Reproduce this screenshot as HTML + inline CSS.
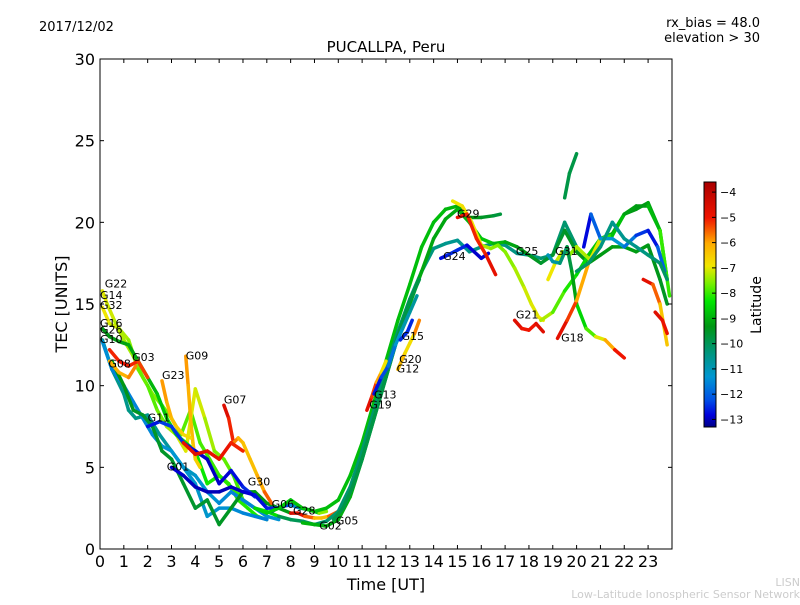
<!DOCTYPE html>
<html><head><meta charset="utf-8">
<style>
body{margin:0;background:#fff;}
svg{font-family:"DejaVu Sans","Liberation Sans",sans-serif;}
</style></head>
<body>
<svg id="c" width="800" height="600" xmlns="http://www.w3.org/2000/svg">
<text x="39" y="31" font-size="13">2017/12/02</text>
<text x="760" y="27" font-size="13" text-anchor="end">rx_bias = 48.0</text>
<text x="760" y="42" font-size="13" text-anchor="end">elevation &gt; 30</text>
<text x="386" y="52" font-size="15" text-anchor="middle">PUCALLPA, Peru</text>
<g id="marks"></g>
<g id="labels"></g>
<rect x="100" y="59" width="572" height="490" fill="none" stroke="#000" stroke-width="1"/>
<g id="axes"></g>
<text x="386" y="590" font-size="16" text-anchor="middle">Time [UT]</text>
<text x="67" y="304" font-size="16" text-anchor="middle" transform="rotate(-90 67 304)">TEC [UNITS]</text>
<g id="cbar"></g>
<text x="761" y="305" font-size="14" text-anchor="middle" transform="rotate(-90 761 305)">Latitude</text>
<text x="800" y="586" font-size="11" fill="#ccc" text-anchor="end">LISN</text>
<text x="800" y="598" font-size="11" fill="#ccc" text-anchor="end">Low-Latitude Ionospheric Sensor Network</text>
</svg>
<script>
const xTicks=[0,1,2,3,4,5,6,7,8,9,10,11,12,13,14,15,16,17,18,19,20,21,22,23];
const yTicks=[0,5,10,15,20,25,30];
const cbTicks=[-4,-5,-6,-7,-8,-9,-10,-11,-12,-13];
const satNames=["G22","G14","G32","G16","G26","G10","G08","G03","G09","G23","G11","G07","G01","G30","G06","G28","G02","G05","G29","G24","G25","G31","G21","G18","G15","G20","G12","G13","G19"];
const satLabelT=[0.2,0,0,0,0,0,0.35,1.35,3.6,2.6,2.0,5.2,2.8,6.2,7.2,8.1,9.2,9.9,14.98,14.4,17.45,19.1,17.45,19.35,12.65,12.55,12.45,11.5,11.3];
const satLabelV=[16.0,15.3,14.7,13.6,13.2,12.6,11.1,11.5,11.6,10.4,7.8,8.9,4.8,3.9,2.5,2.1,1.2,1.5,20.3,17.7,18.0,18.0,14.1,12.7,12.8,11.4,10.8,9.2,8.6];
// tracks: times, TEC values, latitudes
const trT=[],trV=[],trL=[];
function tr(t,v,l){trT.push(t);trV.push(v);trL.push(l);}
tr([0.1,0.3,0.6,1.0,1.4,1.8,2.2,2.6,3.0,3.4,3.8,4.2,4.6,5.0,5.4,5.8,6.2,6.6,7.0],[15.8,15.0,14.0,12.8,11.8,10.5,9.5,8.8,8.0,7.0,8.5,6.5,5.5,4.5,4.0,3.0,2.5,2.0,1.8],[-7.0,-7.0,-7.2,-7.3,-7.4,-7.5,-7.5,-7.6,-7.7,-7.8,-7.8,-7.9,-7.9,-8.0,-8.0,-8.1,-8.1,-8.2,-8.2]);
tr([0.1,0.4,0.8,1.2,1.6,2.0,2.4,2.8,3.2,3.6,4.0,4.4,4.8,5.2,5.6,6.0],[14.8,13.8,13.5,12.8,11.0,10.0,8.5,7.5,7.0,6.0,9.8,8.0,6.0,5.5,4.5,3.0],[-6.8,-7.0,-7.2,-7.4,-7.6,-7.8,-7.8,-7.5,-7.2,-7.0,-7.0,-7.2,-7.5,-7.7,-7.8,-8.0]);
tr([0.1,0.4,0.8,1.2,1.6,2.0,2.4,2.8,3.2,3.6,4.0,4.5,5.0,5.5,6.0,6.5,7.0,7.5],[13.5,13.0,12.7,12.5,11.5,10.5,9.5,8.0,7.0,6.5,6.0,4.0,4.5,3.8,3.0,2.5,2.3,2.0],[-9.3,-9.3,-9.2,-9.1,-9.0,-9.0,-8.8,-8.6,-8.5,-8.4,-8.3,-8.2,-8.1,-8.0,-8.0,-8.1,-8.3,-8.5]);
tr([0.1,0.5,1.0,1.2,1.5,2.0,2.5,3.0,3.5,4.0,4.5,5.0,5.5,6.0,6.5,7.0,7.5],[12.8,11.0,9.5,8.5,8.0,8.2,7.0,6.0,5.0,4.5,3.5,2.8,3.5,3.0,2.5,2.0,1.8],[-10.5,-10.5,-10.5,-10.5,-10.4,-10.5,-10.6,-10.8,-11.0,-11.2,-11.3,-11.4,-11.5,-11.6,-11.5,-11.4,-11.3]);
tr([0.1,0.5,1.0,1.4,1.8,2.2,2.6,3.0,3.5,4.0,4.5,5.0,5.5,6.0,6.5,7.0],[12.7,11.0,10.0,9.0,8.0,7.0,6.3,6.0,5.0,4.0,2.0,2.5,2.5,2.2,2.0,1.8],[-11.3,-11.5,-11.6,-11.6,-11.5,-11.5,-11.4,-11.3,-11.3,-11.2,-11.2,-11.3,-11.4,-11.5,-11.6,-11.6]);
tr([0.5,1.0,1.4,1.8,2.2,2.6,3.0,3.5,4.0,4.5,5.0,5.5,6.0,6.5,7.0,7.5,8.0],[11.5,10.0,8.5,8.2,7.5,6.0,5.5,4.0,2.5,3.0,1.5,2.5,3.5,3.5,2.8,2.5,2.2],[-9.2,-9.3,-9.4,-9.5,-9.5,-9.5,-9.5,-9.5,-9.6,-9.6,-9.5,-9.4,-9.4,-9.3,-9.3,-9.3,-9.2]);
tr([0.4,0.8,1.2,1.6,2.0],[12.2,11.5,11.2,11.5,10.5],[-5.2,-5.0,-5.0,-5.2,-5.4]);
tr([0.4,0.8,1.2,1.5],[11.5,10.8,10.5,11.2],[-6.0,-6.2,-6.0,-5.5]);
tr([3.6,3.7,3.8,3.9,4.0,4.2],[11.8,10.0,8.0,6.5,5.5,5.0],[-5.8,-6.0,-6.2,-6.3,-6.5,-6.6]);
tr([2.6,2.8,3.0,3.2,3.5,3.8],[10.3,9.0,8.0,7.5,7.0,6.8],[-5.8,-6.0,-6.2,-6.4,-6.6,-6.8]);
tr([2.0,2.5,3.0,3.5,4.0,4.5,5.0,5.5,6.0,6.5],[7.5,7.8,7.5,6.5,6.0,5.5,4.0,4.8,3.8,3.2],[-12.8,-12.5,-12.2,-12.6,-12.8,-13.0,-12.9,-12.8,-12.6,-12.4]);
tr([3.0,3.5,4.0,4.5,5.0,5.5,6.0,6.5,7.0,7.5],[5.0,4.5,3.8,3.5,3.5,3.8,3.5,3.3,2.5,2.5],[-12.8,-12.9,-13.0,-13.0,-13.0,-13.0,-12.9,-12.8,-12.6,-12.5]);
tr([5.2,5.4,5.6,5.8,6.0,6.3,6.6,6.9,7.2],[8.8,8.0,6.5,6.8,6.5,5.5,4.5,3.5,2.8],[-4.5,-4.7,-5.5,-6.0,-6.3,-6.4,-6.2,-5.8,-5.2]);
tr([3.5,4.0,4.5,5.0,5.5,6.0],[6.5,5.8,6.0,5.5,6.5,6.0],[-5.0,-4.6,-4.8,-4.8,-5.0,-5.2]);
tr([7.2,7.6,8.0,8.4,8.8,9.2,9.5],[2.3,2.6,2.7,2.5,2.4,2.2,2.3],[-13.0,-12.6,-12.0,-11.0,-9.5,-8.0,-7.0]);
tr([8.0,8.3,8.6,9.0,9.3,9.6,10.0,10.2],[2.2,2.2,2.0,1.9,1.9,2.0,2.3,2.5],[-4.5,-4.5,-5.0,-6.0,-6.5,-6.0,-5.0,-4.5]);
tr([6.5,7.0,7.5,8.0,8.5,9.0,9.5,10.0,10.5,11.0,11.5,12.0,12.5,13.0,13.5,14.0,14.5,15.0,15.5,16.0,16.5,16.8],[2.5,2.2,2.5,3.0,2.5,2.3,2.5,3.0,4.5,6.5,9.0,11.5,14.0,16.2,18.5,20.0,20.8,21.0,20.3,20.3,20.4,20.5],[-8.5,-8.5,-8.6,-8.7,-8.8,-8.8,-8.8,-8.8,-8.8,-8.8,-8.8,-8.8,-8.8,-8.8,-8.8,-8.8,-8.8,-9.0,-9.2,-9.4,-9.6,-9.8]);
tr([7.5,8.0,8.5,9.0,9.5,10.0,10.5,11.0,11.5,12.0,12.5,13.0,13.5,14.0,14.5,15.0,15.5,16.0,16.5,17.0,17.5,18.0,18.5,19.0,19.5,20.0],[2.0,1.8,1.7,1.5,1.7,2.3,3.8,6.0,8.5,11.0,13.3,15.3,17.0,18.4,18.7,18.9,18.2,18.5,18.7,18.6,18.1,18.0,17.8,18.0,20.0,18.5],[-9.8,-9.9,-10.0,-10.1,-10.2,-10.2,-10.2,-10.2,-10.2,-10.2,-10.2,-10.2,-10.3,-10.4,-10.5,-10.6,-10.5,-10.4,-10.3,-10.4,-10.4,-10.4,-10.3,-10.2,-10.2,-10.2]);
tr([8.5,9.0,9.5,10.0,10.5,11.0,11.5,12.0,12.5,13.0,13.5,14.0,14.5,15.0,15.5,16.0,16.5,17.0,17.5,18.0,18.5,19.0,19.5,20.0,20.5,21.0,21.5,22.0,22.5,23.0,23.5,23.8],[1.6,1.5,1.4,1.8,3.2,5.5,8.0,10.5,13.0,15.0,17.0,19.0,20.2,20.8,20.0,19.0,18.7,18.8,18.5,18.0,17.5,18.0,19.5,18.2,17.5,18.0,18.5,18.5,18.2,18.6,16.5,15.0],[-8.9,-8.9,-9.0,-9.0,-9.0,-9.0,-9.0,-9.0,-9.0,-9.0,-9.1,-9.1,-9.1,-9.0,-8.8,-8.6,-8.8,-9.0,-9.2,-9.4,-9.5,-9.6,-9.5,-9.4,-9.3,-9.3,-9.2,-9.2,-9.2,-9.3,-9.4,-9.5]);
tr([9.8,10.2,10.6,11.0,11.4,11.8,12.2,12.6,13.0,13.4],[1.8,2.5,3.8,5.5,7.5,9.5,11.5,13.5,15.2,16.5],[-9.8,-9.8,-9.8,-9.8,-9.8,-9.8,-9.8,-9.8,-9.8,-9.8]);
tr([11.2,11.4,11.6,11.8,12.0],[8.5,9.3,10.2,10.8,11.5],[-4.5,-5.0,-5.5,-6.5,-7.2]);
tr([11.5,11.8,12.1,12.4,12.7,13.0,13.3],[9.5,10.5,11.2,12.5,13.5,14.5,15.5],[-12.8,-12.5,-12.0,-11.5,-11.0,-10.8,-10.6]);
tr([12.5,12.8,13.0,13.2,13.4],[11.0,12.0,12.6,13.2,14.0],[-6.0,-6.5,-7.0,-6.5,-5.0]);
tr([12.6,12.9,13.1],[12.8,13.3,14.0],[-12.5,-12.5,-12.5]);
tr([14.3,14.6,15.0,15.4,15.7,16.0,16.3],[17.8,18.0,18.3,18.6,18.2,17.8,18.1],[-12.8,-12.6,-12.4,-12.6,-13.0,-12.8,-12.9]);
tr([14.8,15.2,15.6,16.0,16.4,16.7,17.0,17.4,17.8,18.1,18.4,18.6],[21.3,21.0,20.0,18.6,18.4,18.6,18.2,17.2,16.0,15.0,14.2,14.0],[-6.8,-7.0,-6.6,-7.2,-7.4,-7.6,-7.6,-7.4,-7.2,-7.0,-7.0,-6.8]);
tr([15.0,15.4,15.8,16.2,16.6],[20.3,20.5,19.0,18.0,16.8],[-4.8,-5.0,-5.2,-5.0,-4.6]);
tr([17.4,17.7,18.0,18.3,18.6],[14.0,13.5,13.4,13.8,13.3],[-4.5,-4.8,-5.2,-4.8,-4.5]);
tr([18.5,19.0,19.5,20.0,20.5,21.0,21.5,22.0,22.5,23.0,23.5,23.8],[14.0,14.5,15.8,16.8,18.0,19.0,19.3,20.5,20.8,21.2,19.5,16.5],[-7.0,-7.6,-8.0,-8.3,-8.6,-8.8,-9.0,-9.2,-9.3,-9.2,-9.0,-8.6]);
tr([18.8,19.1,19.4,19.7,20.0,20.5],[16.5,17.5,18.2,18.0,18.5,17.8],[-6.8,-7.0,-7.3,-7.5,-7.4,-7.2]);
tr([18.8,19.0,19.3,19.6,19.8,20.0,20.4,20.8,21.2,21.6,22.0],[18.0,17.6,17.5,18.5,17.0,15.0,13.5,13.0,12.8,12.2,11.7],[-11.0,-11.0,-10.5,-10.0,-9.5,-8.8,-8.2,-7.5,-6.5,-5.5,-4.5]);
tr([19.2,19.6,20.0,20.5,21.0,21.5,22.0,22.5,23.0,23.5,23.9],[12.9,14.0,15.2,17.5,19.0,19.2,20.5,21.0,21.0,19.5,15.5],[-4.5,-5.0,-5.5,-6.5,-7.5,-8.5,-9.0,-9.3,-9.2,-8.5,-7.5]);
tr([19.5,19.7,20.0],[21.5,23.0,24.2],[-9.8,-9.8,-9.8]);
tr([20.3,20.6,21.0,21.5,22.0,22.5,23.0,23.4,23.7],[18.5,20.5,19.0,19.0,18.5,19.2,19.5,18.5,17.0],[-13.0,-12.5,-11.5,-11.0,-11.5,-12.0,-12.8,-12.5,-11.5]);
tr([20.0,20.5,21.0,21.5,22.0,22.5,23.0,23.5,23.8],[17.0,17.5,18.5,20.0,19.0,18.5,18.0,17.5,16.5],[-10.2,-10.0,-10.3,-10.5,-10.6,-10.5,-10.3,-10.2,-10.0]);
tr([22.8,23.2,23.5,23.8],[16.5,16.2,15.0,12.5],[-4.5,-5.0,-6.0,-6.8]);
tr([23.3,23.6,23.8],[14.5,14.0,13.2],[-4.5,-4.8,-5.0]);

const X=t=>100+t*23.83, Y=v=>549-v*16.333;
const LMIN=-13.3,LMAX=-3.6;
const CS=[[-13.3,0,0,130],[-12.8,0,0,220],[-12.2,0,80,230],[-11.3,0,150,210],[-10.4,0,150,130],[-9.3,0,150,20],[-8.3,0,230,0],[-7.6,120,240,0],[-6.9,240,230,0],[-6.0,255,170,0],[-5.0,240,20,0],[-3.6,170,0,0]];
function jet(l){l=Math.max(LMIN,Math.min(LMAX,l));
 for(let i=0;i<CS.length-1;i++){const a=CS[i],b=CS[i+1];if(l<=b[0]){const f=(l-a[0])/(b[0]-a[0]);
  return `rgb(${Math.round(a[1]+f*(b[1]-a[1]))},${Math.round(a[2]+f*(b[2]-a[2]))},${Math.round(a[3]+f*(b[3]-a[3]))})`;}}
 return 'rgb(170,0,0)';}
const NS="http://www.w3.org/2000/svg";
function el(tag,attrs,parent){const e=document.createElementNS(NS,tag);for(const k in attrs)e.setAttribute(k,attrs[k]);parent.appendChild(e);return e;}
const marks=document.getElementById('marks');
for(let i=0;i<trT.length;i++){
 const g=el('g',{},marks);
 
 
 const t=trT[i],v=trV[i],l=trL[i];
 for(let j=0;j<t.length-1;j++){
  const s=el('line',{x1:X(t[j]),y1:Y(v[j]),x2:X(t[j+1]),y2:Y(v[j+1]),stroke:jet((l[j]+l[j+1])/2),'stroke-width':3.5,'stroke-linecap':'round'},g);
  
  
 }
}
const labels=document.getElementById('labels');
for(let i=0;i<satNames.length;i++){
 const tx=el('text',{x:X(satLabelT[i]),y:Y(satLabelV[i]),'font-size':11},labels);
 tx.textContent=satNames[i];
 
 
}
const axes=document.getElementById('axes');
xTicks.forEach(t=>{
 el('line',{x1:X(t),y1:549,x2:X(t),y2:545,stroke:'#000'},axes);
 el('line',{x1:X(t),y1:59,x2:X(t),y2:63,stroke:'#000'},axes);
 const tx=el('text',{x:X(t),y:567,'font-size':16,'text-anchor':'middle'},axes);
 tx.textContent=t;
 
 
});
yTicks.forEach(v=>{
 el('line',{x1:100,y1:Y(v),x2:104,y2:Y(v),stroke:'#000'},axes);
 el('line',{x1:672,y1:Y(v),x2:668,y2:Y(v),stroke:'#000'},axes);
 const tx=el('text',{x:95,y:Y(v)+6,'font-size':16,'text-anchor':'end'},axes);
 tx.textContent=v;
 
 
});
const cb=document.getElementById('cbar');
const CT=182,CB=427,cY=l=>CT+(LMAX-l)/(LMAX-LMIN)*(CB-CT);
for(let y=CT;y<CB;y++){const l=LMAX-(y-CT)/(CB-CT)*(LMAX-LMIN);el('rect',{x:704,y:y,width:12,height:1.2,fill:jet(l)},cb);}
const fr=el('rect',{x:704,y:CT,width:12,height:CB-CT,fill:'none',stroke:'#000'},cb);


cbTicks.forEach(l=>{
 el('line',{x1:712,y1:cY(l),x2:716,y2:cY(l),stroke:'#000'},cb);
 const tx=el('text',{x:720,y:cY(l)+4,'font-size':11},cb);
 tx.textContent='\u2212'+Math.abs(l);
 
 
});
</script>
</body></html>
